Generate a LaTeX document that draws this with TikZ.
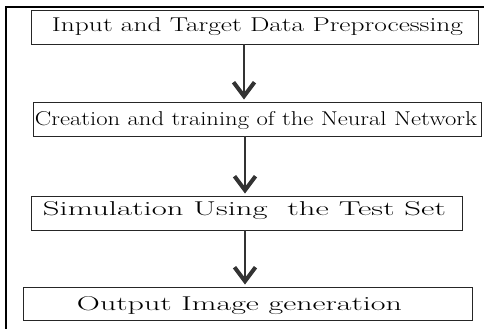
\documentclass[tikz,border=0pt]{standalone}
\usepackage{fontspec}
\usepackage{graphicx}
\usetikzlibrary{arrows.meta}
\newcommand{\fittext}[2]{\resizebox{#1}{\height}{\fontsize{20}{24}\selectfont\addfontfeatures{LetterSpace=6}#2}}
\tikzset{
  stepbox/.style={draw=black!85, line width=0.9pt, rectangle, inner sep=0pt},
  steptext/.style={anchor=base, inner sep=0pt, text=black},
  flow/.style={draw=black!80, line width=1.3pt, -{Straight Barb[length=14pt,width=21pt,line width=4pt,sharp]}, shorten >=2pt},
  frame/.style={line width=2pt, black}
}
\begin{document}
\begin{tikzpicture}[x=1pt,y=-1pt]
\useasboundingbox (0,0) rectangle (484,329);
\draw[frame] (484,7) -- (6,7) -- (6,329);
% boxes
\node[stepbox, minimum width=447pt, minimum height=34pt] (b1) at (254.5,27) {};
\node[stepbox, minimum width=448pt, minimum height=34pt] (b2) at (257,119) {};
\node[stepbox, minimum width=431pt, minimum height=34pt] (b3) at (246.5,213) {};
\node[stepbox, minimum width=449pt, minimum height=33pt] (b4) at (247.5,303.5) {};
% texts
\node[steptext] (t1) at (257.5,32) {\fittext{411pt}{Input and Target Data Preprocessing}};
\node[steptext] (t2) at (256,125) {\fittext{442pt}{Creation and training of the Neural Network}};
\node[steptext] (t3) at (244.5,215) {\fittext{403pt}{Simulation Using~ the Test Set}};
\node[steptext] (t4) at (239.5,310) {\fittext{325pt}{Output Image generation}};
% arrows
\draw[flow] (b1.south -| 244,0) -- (b2.north -| 244,0);
\draw[flow] (b2.south -| 245,0) -- (b3.north -| 245,0);
\draw[flow] (b3.south -| 245,0) -- (b4.north -| 245,0);
\end{tikzpicture}
\end{document}
